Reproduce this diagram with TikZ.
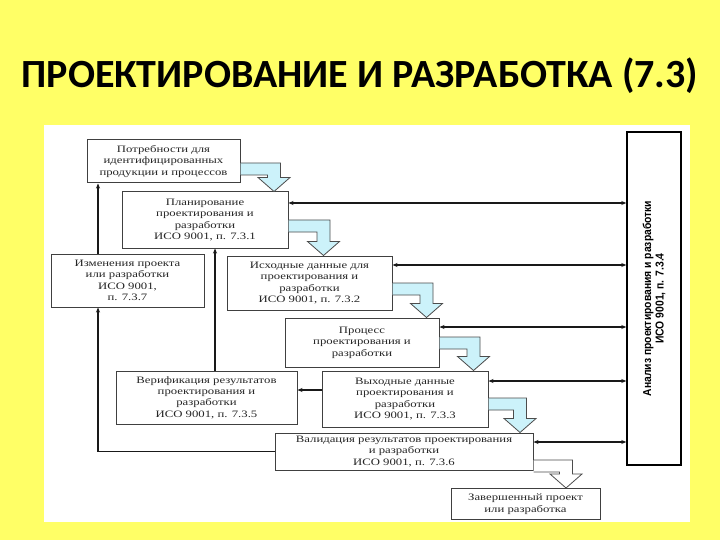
\documentclass[tikz,border=0pt]{standalone}
\usepackage{fontspec}
\setmainfont{Liberation Serif}
\newfontfamily\titlefont{Carlito}
\newfontfamily\boxfont[FakeStretch=1.3]{Liberation Serif}
\newfontfamily\reviewfont[FakeStretch=0.9]{Liberation Sans}
\usetikzlibrary{arrows.meta,calc}

\definecolor{slideyellow}{RGB}{255,255,102}
\definecolor{flowcyan}{RGB}{204,242,250}

\tikzset{
  stage/.style={draw=black!75, fill=white, align=center, inner sep=2pt,
    font=\boxfont\fontsize{9.8}{11.4}\selectfont, text=black!85},
  link/.style={line width=1.1pt, black!90},
}

\newcommand{\bentarrow}[5][flowcyan]{%
  \coordinate (bt) at (#5,#4);
  \coordinate (bb) at (#5,#4+12);
  \coordinate (tip) at (#3.north -| bt);
  \draw[fill=#1, draw=black!70, line width=0.8pt]
    (#2.east |- bt) -- ($(bt)+(6.5,0)$) -- ($(tip)+(6.5,-14)$) -- ($(tip)+(16,-14)$)
    -- (tip) -- ($(tip)+(-16,-14)$) -- ($(tip)+(-6.5,-14)$) -- ($(bb)+(-6.5,0)$)
    -- (#2.east |- bb);
}

\begin{document}
\begin{tikzpicture}[>={Stealth[length=5pt,width=4pt]}, line width=1pt, x=1pt, y=-1pt]
\useasboundingbox (0,0) rectangle (720,540);
\fill[slideyellow] (0,0) rectangle (720,540);
\fill[white] (44,125) rectangle (690,522);

\node[font=\titlefont\bfseries\fontsize{40}{46}\selectfont] (title) at (360,76)
  {ПРОЕКТИРОВАНИЕ И РАЗРАБОТКА (7.3)};

\node[stage, minimum width=153, minimum height=43] (need) at (163.5,161.5)
  {Потребности для\\идентифицированных\\продукции и процессов};
\node[stage, minimum width=166, minimum height=56] (plan) at (205,220)
  {Планирование\\проектирования и\\разработки\\ИСО 9001, п. 7.3.1};
\node[stage, minimum width=153, minimum height=53] (change) at (127.5,280.5)
  {Изменения проекта\\или разработки\\ИСО 9001,\\п. 7.3.7};
\node[stage, minimum width=165, minimum height=54] (input) at (309.5,283)
  {Исходные данные для\\проектирования и\\разработки\\ИСО 9001, п. 7.3.2};
\node[stage, minimum width=154, minimum height=49] (proc) at (362,342.5)
  {Процесс\\проектирования и\\разработки};
\node[stage, minimum width=166, minimum height=56] (output) at (405,399)
  {Выходные данные\\проектирования и\\разработки\\ИСО 9001, п. 7.3.3};
\node[stage, minimum width=181, minimum height=53] (verif) at (206.5,397.5)
  {Верификация результатов\\проектирования и\\разработки\\ИСО 9001, п. 7.3.5};
\node[stage, minimum width=258, minimum height=37] (valid) at (404,451.5)
  {Валидация результатов проектирования\\и разработки\\ИСО 9001, п. 7.3.6};
\node[stage, minimum width=149, minimum height=31] (done) at (525.5,504)
  {Завершенный проект\\или разработка};

\node[draw, line width=1.4pt, fill=white, minimum width=54, minimum height=333] (review) at (654,298.5) {};
\node[rotate=90, align=center, font=\reviewfont\bfseries\fontsize{11.5}{12.5}\selectfont] (reviewtext)
  at (review.center) {Анализ проектирования и разработки\\ИСО 9001, п. 7.3.4};

\foreach \n/\y in {plan/203, input/265, proc/327, output/381, valid/442} {
  \path (0,\y) coordinate (h);
  \draw[link, <->] (\n.east |- h) -- (review.west |- h);
}

\coordinate (lx) at (98,0);
\coordinate (mx) at (215,0);
\coordinate (vy) at (0,390);
\draw[link, ->] (change.north -| lx) -- (need.south -| lx);
\draw[link, ->] (valid.west) -| (change.south -| lx);
\draw[link, ->, line width=1.6pt] (verif.north -| mx) -- (plan.south -| mx);
\draw[link, ->] (output.west |- vy) -- (verif.east |- vy);

\bentarrow{need}{plan}{163}{274}
\bentarrow{plan}{input}{220}{323.5}
\bentarrow{input}{proc}{283}{426.5}
\bentarrow{proc}{output}{337}{473.5}
\bentarrow{output}{valid}{398}{520}
\bentarrow[white]{valid}{done}{460}{566}
\end{tikzpicture}
\end{document}
